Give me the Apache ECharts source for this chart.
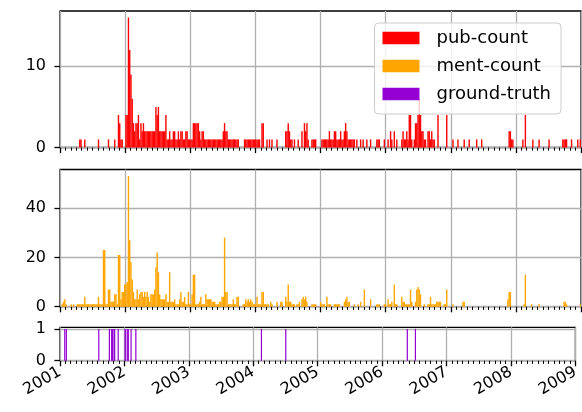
<!DOCTYPE html>
<html><head><meta charset="utf-8">
<script src="https://cdn.jsdelivr.net/npm/echarts@6/dist/echarts.min.js"></script>
<style>html,body{margin:0;padding:0;background:#fff}#c{width:582px;height:412px}</style>
</head><body><div id="c"></div>
<script>
// ---- data (weekly counts, weeks ending on Sundays starting 2001-01-07) ----
const firstWeekEnd = [2001, 0, 7];
const seriesNames = ['pub-count', 'ment-count', 'ground-truth'];
const yearTicks = [2001, 2002, 2003, 2004, 2005, 2006, 2007, 2008, 2009];
const pubTicks = [0, 10];
const mentTicks = [0, 20, 40];
const truthTicks = [0, 1];

const pub2001 = [0,0,0,0,0,0,0,0,0,0, 0,0,0,0,0,1,1,0,0,1, 0,0,0,0,0,0,0,0,0,0, 1,0,0,0,0,0,0,0,1,0, 0,0,0,1,0,0,4,3,1,1, 0,0];
const pub2002 = [4,4,16,12,9,6,3,2,3,3, 4,1,3,2,3,2,2,2,2,2, 2,2,2,2,5,4,5,2,2,2, 2,2,4,1,1,2,1,1,2,2, 1,1,2,1,2,2,1,1,2,2, 1,1];
const pub2003 = [1,1,3,3,3,3,3,2,1,2, 2,1,1,1,1,1,1,1,1,1, 1,1,1,1,1,1,2,3,2,2, 1,1,1,1,1,1,1,1,1,0, 0,0,0,1,1,1,1,1,1,1, 1,1];
const pub2004 = [1,1,1,1,0,3,3,0,0,1, 0,1,0,1,0,0,0,1,0,0, 0,0,0,0,2,2,3,2,1,1, 0,1,0,0,1,0,0,2,0,3, 2,3,1,0,0,1,1,1,1,0, 0,0];
const pub2005 = [0,1,1,1,1,1,1,2,1,1, 1,2,2,1,1,1,2,1,1,2, 3,2,1,1,1,1,1,1,0,1, 0,0,1,0,1,0,0,1,0,0, 1,0,0,0,0,1,1,1,0,0, 0,1];
const pub2006 = [0,0,1,0,2,1,0,2,0,1, 0,0,0,1,2,1,1,2,1,4, 4,1,0,1,3,3,4,6,4,2, 2,1,1,0,2,2,1,2,1,1, 0,0,4,0,0,0,0,0,0,4, 0,0];
const pub2007 = [0,0,1,0,0,0,1,0,0,0, 0,1,0,0,0,1,0,0,0,0, 0,1,0,0,0,1,0,0,0,0, 0,0,0,0,0,0,0,0,0,0, 0,0,0,0,0,0,0,2,2,1, 1,0];
const pub2008 = [0,0,0,0,0,0,1,0,4,0, 0,0,0,0,1,0,0,0,0,1, 0,0,0,0,0,0,0,1,0,0, 0,0,0,0,0,0,0,0,1,1, 1,1,0,0,0,1,0,0,0,0, 1,0,1];

const ment2001 = [0,1,2,3,1,0,0,0,1,0, 1,0,0,1,1,1,1,1,1,4, 1,1,1,1,1,1,1,1,1,1, 4,1,1,1,23,23,1,1,7,7, 2,2,2,5,5,1,21,21,3,6, 6,9];
const ment2002 = [9,10,53,27,18,11,6,3,3,7, 3,5,6,6,4,6,4,6,4,2, 5,5,5,7,16,22,14,5,3,3, 3,3,5,2,2,14,2,2,2,3, 1,1,1,3,6,2,2,4,1,1, 6,1];
const ment2003 = [1,5,13,13,1,1,1,2,4,1, 1,1,5,3,3,3,3,2,2,2, 1,1,1,2,2,4,4,28,6,6, 1,1,1,1,3,1,1,4,4,0, 0,0,1,1,3,2,3,2,3,2, 1,1];
const ment2004 = [1,4,1,1,1,6,6,1,1,1, 1,0,2,1,0,0,0,2,0,0, 2,2,0,0,4,2,9,2,2,1, 1,1,0,1,1,2,0,3,4,3, 4,2,0,0,0,1,1,1,1,0, 0,0];
const ment2005 = [2,1,1,1,0,4,1,1,1,0, 0,1,1,1,1,1,0,0,0,2, 3,4,2,2,0,0,0,1,0,0, 1,0,2,0,0,7,0,0,0,0, 3,0,0,0,0,1,1,1,0,0, 0,1];
const ment2006 = [1,0,3,1,1,2,0,9,1,1, 0,0,0,4,2,2,1,1,1,1, 7,2,0,0,2,7,8,7,5,0, 0,1,0,0,1,1,4,1,1,1, 1,2,2,2,2,0,0,1,1,7, 0,0];
const ment2007 = [0,0,1,0,0,0,0,0,0,0, 2,2,0,0,0,0,0,0,0,0, 0,0,0,0,0,0,0,0,0,0, 0,0,0,0,0,0,0,0,0,0, 0,0,0,0,0,0,3,6,6,0, 0,0];
const ment2008 = [0,0,0,0,0,0,0,1,13,0, 0,0,0,1,0,0,0,0,0,1, 0,0,0,0,0,0,0,0,0,0, 0,0,0,0,0,0,0,0,0,2, 2,1,0,0,0,0,0,0,0,0, 0,0,1];

const groundTruthDates = ['2001-01-28','2001-02-06','2001-08-09','2001-10-08','2001-10-21','2001-10-25',
  '2001-11-03','2001-11-07','2001-11-27','2002-01-05','2002-01-09','2002-01-20','2002-01-23',
  '2002-02-08','2002-03-07','2004-02-17','2004-07-04','2006-05-24','2006-07-09'];

// ---- build ----
const pubCount = [].concat(pub2001, pub2002, pub2003, pub2004, pub2005, pub2006, pub2007, pub2008);
const mentCount = [].concat(ment2001, ment2002, ment2003, ment2004, ment2005, ment2006, ment2007, ment2008);
const DAY = 86400000;
const origin = Date.UTC(2001, 0, 1);
const toYear = ms => 2001 + (ms - origin) / (365.25 * DAY);
const weekX = i => toYear(Date.UTC(firstWeekEnd[0], firstWeekEnd[1], firstWeekEnd[2]) + i * 7 * DAY);
const weekly = arr => arr.map((v, i) => [weekX(i), v]).filter(d => d[1] > 0);
const truthData = groundTruthDates.map(s => {
  const p = s.split('-').map(Number);
  return [toYear(Date.UTC(p[0], p[1] - 1, p[2])), 1];
});

const FONT = 'DejaVu Sans';
const grids = [
  {left: 60, top: 11, width: 521, height: 136.5},
  {left: 60, top: 169.5, width: 521, height: 137.2},
  {left: 60, top: 327.3, width: 521, height: 33.4}
].map(g => Object.assign(g, {show: true, borderColor: '#000', borderWidth: 1.3, backgroundColor: 'transparent'}));

const xAxes = [0, 1, 2].map(i => ({
  type: 'value', gridIndex: i, min: yearTicks[0], max: yearTicks[yearTicks.length - 1], interval: 1,
  axisLine: {show: false},
  axisTick: {show: true, length: 5.6, lineStyle: {color: '#000', width: 1.3}},
  minorTick: {show: true, splitNumber: 12, length: 3.2, lineStyle: {color: '#000', width: 1}},
  splitLine: {show: true, lineStyle: {color: '#b0b0b0', width: 1.3}},
  axisLabel: {show: i === 2, rotate: 30, margin: 10, fontSize: 16, fontFamily: FONT, color: '#000',
    formatter: v => String(Math.round(v))}
}));

function yAx(i, max, interval, ticks) {
  return {
    type: 'value', gridIndex: i, min: 0, max: max, interval: interval,
    axisLine: {show: false},
    axisTick: {show: true, length: 5.6, lineStyle: {color: '#000', width: 1.3}, customValues: ticks},
    splitLine: {show: true, lineStyle: {color: '#b0b0b0', width: 1.3}},
    axisLabel: {show: true, margin: 14, fontSize: 16, fontFamily: FONT, color: '#000', customValues: ticks,
      formatter: v => (ticks.indexOf(Number(v)) >= 0 ? String(v) : '')}
  };
}

const option = {
  animation: false,
  backgroundColor: '#fff',
  grid: grids,
  xAxis: xAxes,
  yAxis: [yAx(0, 16.8, 10, pubTicks), yAx(1, 55.65, 20, mentTicks), yAx(2, 1.05, 1, truthTicks)],
  legend: {
    data: seriesNames, orient: 'vertical', right: 21, top: 23,
    icon: 'rect', itemWidth: 37, itemHeight: 12.5, itemGap: 8,
    padding: [5, 10, 10, 8],
    backgroundColor: 'rgba(255,255,255,0.8)', borderColor: '#cccccc', borderWidth: 1, borderRadius: 4,
    textStyle: {fontSize: 18, fontFamily: FONT, color: '#000', lineHeight: 20, padding: [0, 0, 0, 12]}
  },
  series: [
    {name: seriesNames[0], type: 'bar', xAxisIndex: 0, yAxisIndex: 0, data: weekly(pubCount),
      barWidth: 1.4, itemStyle: {color: '#ff0000'}},
    {name: seriesNames[1], type: 'bar', xAxisIndex: 1, yAxisIndex: 1, data: weekly(mentCount),
      barWidth: 1.4, itemStyle: {color: '#ffa500'}},
    {name: seriesNames[2], type: 'bar', xAxisIndex: 2, yAxisIndex: 2, data: truthData,
      barWidth: 1.2, itemStyle: {color: '#9400d3'}}
  ]
};
const chart = echarts.init(document.getElementById('c'), null, {renderer: 'canvas'});
chart.setOption(option);
</script></body></html>
